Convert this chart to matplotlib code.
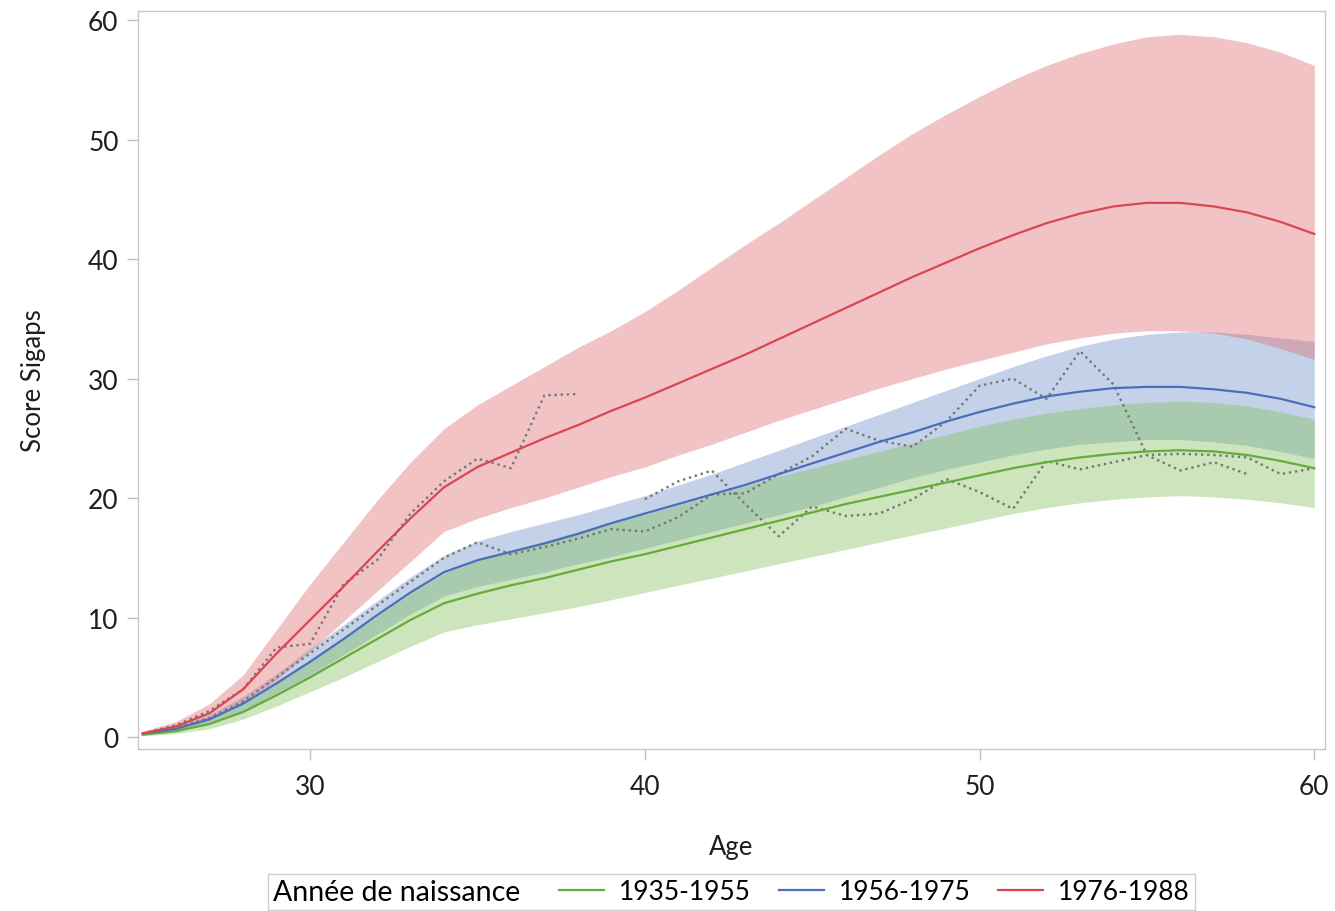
import numpy as np
import matplotlib
matplotlib.use("Agg")
import matplotlib.pyplot as plt
from matplotlib.offsetbox import HPacker

plt.rcParams['font.family'] = ['Lato', 'DejaVu Sans']

# ages of fitted curves
ages = list(range(25, 61))

# 1976-1988
red_fit = [0.3, 0.9, 2.0, 4.0, 7.0, 9.8, 12.6, 15.5, 18.3, 20.9, 22.6, 23.8, 25.0, 26.1, 27.3, 28.4,
           29.6, 30.8, 32.0, 33.3, 34.6, 35.9, 37.2, 38.5, 39.7, 40.9, 42.0, 43.0, 43.8, 44.4, 44.7,
           44.7, 44.4, 43.9, 43.1, 42.1]
red_hi = [0.5, 1.3, 2.8, 5.2, 9.0, 12.8, 16.3, 19.8, 23.0, 25.8, 27.8, 29.4, 31.0, 32.6, 34.0, 35.6,
          37.4, 39.3, 41.2, 43.0, 44.9, 46.8, 48.7, 50.5, 52.1, 53.6, 55.0, 56.2, 57.2, 58.0, 58.6,
          58.8, 58.6, 58.1, 57.3, 56.2]
red_lo = [0.2, 0.6, 1.4, 2.9, 4.8, 7.2, 9.7, 12.2, 14.7, 17.2, 18.3, 19.2, 20.0, 20.9, 21.8, 22.6,
          23.6, 24.5, 25.5, 26.5, 27.4, 28.3, 29.2, 30.0, 30.8, 31.5, 32.2, 32.9, 33.4, 33.8, 34.0,
          34.0, 33.8, 33.3, 32.5, 31.6]
red_obs_age = list(range(25, 39))
red_obs = [0.3, 1.0, 2.2, 4.0, 7.5, 7.8, 12.8, 14.8, 18.7, 21.4, 23.3, 22.5, 28.6, 28.7]

# 1956-1975
blue_fit = [0.3, 0.7, 1.5, 2.8, 4.5, 6.3, 8.2, 10.2, 12.1, 13.8, 14.8, 15.5, 16.2, 17.0, 17.9, 18.7,
            19.5, 20.3, 21.1, 22.0, 22.9, 23.8, 24.7, 25.5, 26.4, 27.2, 27.9, 28.5, 28.9, 29.2, 29.3,
            29.3, 29.1, 28.8, 28.3, 27.6]
blue_hi = [0.4, 0.9, 1.9, 3.4, 5.3, 7.4, 9.4, 11.4, 13.4, 15.2, 16.4, 17.2, 17.9, 18.6, 19.4, 20.2,
           21.1, 22.0, 23.0, 24.0, 25.0, 26.0, 27.0, 28.0, 29.0, 30.0, 31.0, 31.9, 32.7, 33.3, 33.7,
           33.9, 33.9, 33.7, 33.4, 33.1]
blue_lo = [0.2, 0.5, 1.1, 2.2, 3.7, 5.2, 6.9, 8.6, 10.3, 11.8, 12.6, 13.2, 13.8, 14.5, 15.1, 15.8,
           16.5, 17.2, 17.9, 18.6, 19.3, 20.1, 20.9, 21.7, 22.4, 23.0, 23.6, 24.1, 24.5, 24.7, 24.9,
           24.9, 24.7, 24.4, 23.9, 23.3]
blue_obs_age = list(range(25, 59))
blue_obs = [0.3, 0.8, 1.6, 3.0, 5.0, 7.0, 9.0, 11.0, 13.0, 15.0, 16.3, 15.3, 15.9, 16.6, 17.4, 17.2,
            18.4, 20.3, 20.4, 22.0, 23.5, 25.8, 24.8, 24.3, 26.4, 29.4, 30.0, 28.3, 32.3, 29.5, 23.6,
            22.3, 23.0, 22.0]

# 1935-1955
green_fit = [0.2, 0.5, 1.1, 2.1, 3.5, 5.0, 6.6, 8.2, 9.8, 11.2, 12.0, 12.7, 13.3, 14.0, 14.7, 15.3,
             16.0, 16.7, 17.4, 18.1, 18.8, 19.5, 20.1, 20.7, 21.3, 21.9, 22.5, 23.0, 23.4, 23.7, 23.9,
             24.0, 23.9, 23.6, 23.1, 22.5]
green_hi = [0.3, 0.7, 1.5, 2.8, 4.5, 6.3, 8.2, 10.1, 12.0, 13.7, 14.8, 15.6, 16.4, 17.2, 17.9, 18.6,
            19.4, 20.2, 21.0, 21.8, 22.5, 23.2, 23.9, 24.6, 25.3, 26.0, 26.6, 27.1, 27.5, 27.8, 28.0,
            28.1, 28.0, 27.7, 27.2, 26.6]
green_lo = [0.1, 0.3, 0.7, 1.5, 2.6, 3.8, 5.0, 6.3, 7.6, 8.8, 9.4, 9.9, 10.4, 10.9, 11.5, 12.1,
            12.7, 13.3, 13.9, 14.5, 15.1, 15.7, 16.3, 16.9, 17.5, 18.1, 18.7, 19.2, 19.6, 19.9, 20.1,
            20.2, 20.1, 19.9, 19.6, 19.2]
green_obs_age = list(range(40, 61))
green_obs = [19.9, 21.4, 22.3, 19.5, 16.8, 19.3, 18.5, 18.7, 19.9, 21.6, 20.5, 19.1, 23.1, 22.4,
             23.0, 23.6, 23.7, 23.6, 23.4, 22.0, 22.5]

fig = plt.figure(figsize=(13.35, 9.12), dpi=100)
ax = fig.add_axes([0.1034, 0.1776, 0.8891, 0.8092])

# bands
ax.fill_between(ages, blue_lo, blue_hi, color='#6a8fc6', alpha=0.4, lw=0)
ax.fill_between(ages, green_lo, green_hi, color='#80bf58', alpha=0.4, lw=0)
ax.fill_between(ages, red_lo, red_hi, color='#de696e', alpha=0.4, lw=0)

# observed means
dot = (0, (1, 1.6))
ax.plot(red_obs_age, red_obs, color='#767676', lw=1.7, ls=dot)
ax.plot(blue_obs_age, blue_obs, color='#767676', lw=1.7, ls=dot)
ax.plot(green_obs_age, green_obs, color='#767676', lw=1.7, ls=dot)

# fitted curves
l1, = ax.plot(ages, green_fit, color='#66ab3c', lw=1.6, label='1935-1955')
l2, = ax.plot(ages, blue_fit, color='#4a6fb8', lw=1.6, label='1956-1975')
l3, = ax.plot(ages, red_fit, color='#d9474f', lw=1.6, label='1976-1988')

ax.set_xlim(24.86, 60.32)
ax.set_ylim(-1.0, 60.75)
ax.set_xticks([30, 40, 50, 60])
ax.set_yticks([0, 10, 20, 30, 40, 50, 60])
for s in ax.spines.values():
    s.set_color('#c8c8c8')
    s.set_linewidth(1.0)
ax.tick_params(colors='#c0c0c0', labelcolor='#1e1e1e', labelsize=19, length=8, width=1)
ax.tick_params(axis='x', pad=10)
ax.tick_params(axis='y', pad=6)

ax.set_xlabel('Age', fontsize=18.5, color='#1e1e1e', labelpad=25)
ax.set_ylabel('Score Sigaps', fontsize=18.5, color='#1e1e1e', labelpad=30)

leg = fig.legend(handles=[l1, l2, l3], loc='center', bbox_to_anchor=(0.548, 0.021),
                 ncol=3, fontsize=19, title='Année de naissance', title_fontsize=20.5,
                 frameon=True, fancybox=False, edgecolor='#d0d0d0', framealpha=1,
                 handlelength=1.7, handletextpad=0.57, columnspacing=1.05,
                 borderpad=0.2, borderaxespad=0)
leg.get_frame().set_linewidth(1.0)
box = leg._legend_box
box._children = [HPacker(pad=0, sep=28, align='center',
                         children=[leg._legend_title_box, leg._legend_handle_box])]

fig.savefig('out.png', dpi=100)
